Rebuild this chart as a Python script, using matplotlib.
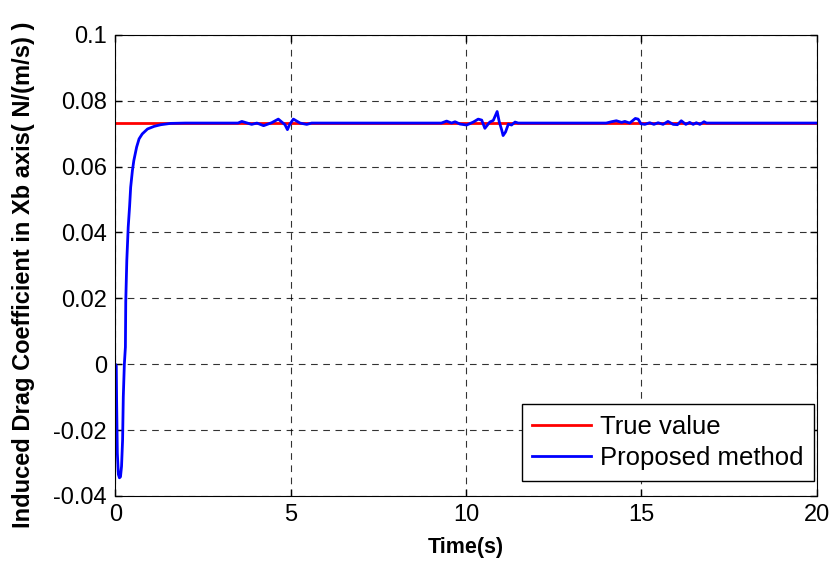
import matplotlib.pyplot as plt

plt.rcParams['font.family'] = ['Liberation Sans', 'DejaVu Sans']

true_value = 0.0732

# estimated coefficient from the proposed method (time in s)
t_est = [0.0, 0.03, 0.04, 0.06, 0.09, 0.12, 0.15, 0.18, 0.21, 0.23, 0.26,
         0.29, 0.30, 0.33, 0.37, 0.41, 0.44, 0.49, 0.53, 0.61, 0.68, 0.77,
         0.92, 1.11, 1.30, 1.58, 2.0,
         3.50, 3.61, 3.89, 4.04, 4.23, 4.46, 4.65, 4.84, 4.91, 4.97, 5.08,
         5.27, 5.46, 5.60,
         9.30, 9.45, 9.59, 9.69, 9.83, 10.02, 10.21, 10.35, 10.45, 10.54,
         10.68, 10.78, 10.89, 10.95, 11.02, 11.06, 11.13, 11.21, 11.30,
         11.40, 11.49,
         14.00, 14.15, 14.29, 14.44, 14.53, 14.67, 14.83, 14.91, 14.99,
         15.10, 15.24, 15.36, 15.48, 15.62, 15.76, 15.91, 16.03, 16.14,
         16.27, 16.38, 16.48, 16.57, 16.67, 16.79, 16.86, 20.0]
y_est = [0.0, -0.0005, -0.0114, -0.027, -0.0335, -0.0345, -0.0342, -0.031,
         -0.023, -0.0099, 0.0, 0.0052, 0.019, 0.0315, 0.0416, 0.048, 0.0537,
         0.0588, 0.0618, 0.0659, 0.0684, 0.0699, 0.0714, 0.0722, 0.0727,
         0.0731, 0.0732,
         0.0732, 0.0737, 0.0728, 0.0732, 0.0724, 0.0733, 0.0744, 0.0727,
         0.0712, 0.0727, 0.0744, 0.0732, 0.0728, 0.0732,
         0.0732, 0.0738, 0.0732, 0.0736, 0.0729, 0.0726, 0.0735, 0.0744,
         0.0741, 0.0716, 0.0735, 0.0740, 0.0767, 0.0736, 0.0711, 0.0694,
         0.0705, 0.0729, 0.0726, 0.0735, 0.0732,
         0.0732, 0.0736, 0.0739, 0.0734, 0.0737, 0.0732, 0.0746, 0.0744,
         0.0730, 0.0728, 0.0733, 0.0728, 0.0733, 0.0728, 0.0737, 0.0728,
         0.0727, 0.0739, 0.0728, 0.0734, 0.0728, 0.0733, 0.0728, 0.0736,
         0.0732, 0.0732]

fig = plt.figure(figsize=(8.35, 5.61), dpi=100)
ax = fig.add_axes([0.138, 0.116, 0.840, 0.822])

ax.plot([0, 20], [true_value, true_value], color='red', lw=2, label='True value')
ax.plot(t_est, y_est, color='blue', lw=2, label='Proposed method')

ax.set_xlim(0, 20)
ax.set_ylim(-0.04, 0.1)
ax.set_xticks([0, 5, 10, 15, 20])
ax.set_yticks([-0.04, -0.02, 0, 0.02, 0.04, 0.06, 0.08, 0.1])
ax.set_yticklabels(['-0.04', '-0.02', '0', '0.02', '0.04', '0.06', '0.08', '0.1'])
ax.tick_params(direction='in', length=5, top=True, right=True, labelsize=17,
               width=1, pad=6)
ax.grid(True, color='black', linestyle=(0, (6, 5)), linewidth=0.8, alpha=0.8)

ax.set_xlabel('Time(s)', fontsize=15.5, fontweight='bold', labelpad=8)
ax.set_ylabel('Induced Drag Coefficient in Xb axis( N/(m/s) )', fontsize=17,
              fontweight='bold', labelpad=19)
ax.yaxis.set_label_coords(-0.115, 0.48)

leg = ax.legend(loc='lower right', bbox_to_anchor=(0.996, 0.033), borderaxespad=0,
                fontsize=18.5, fancybox=False, framealpha=1, handlelength=2.3,
                handletextpad=0.35, labelspacing=0.3, borderpad=0.4)
leg.get_frame().set_edgecolor('black')
leg.get_frame().set_linewidth(1)

fig.savefig('out.png', dpi=100)
